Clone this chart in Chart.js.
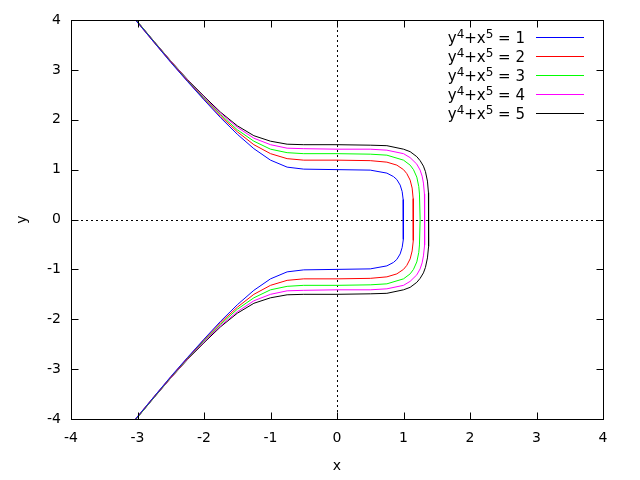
<!DOCTYPE html>
<html>
<head>
<meta charset="utf-8">
<script src="https://cdn.jsdelivr.net/npm/chart.js@4/dist/chart.umd.min.js"></script>
<style>
html,body{margin:0;padding:0;background:#fff;}
#c{display:block;}
</style>
</head>
<body>
<canvas id="c" width="640" height="480"></canvas>
<script>
// ---- data ----
// legend texts; "^" marks a superscript digit (drawn raised, smaller)
const labels = ["y^4+x^5 = 1","y^4+x^5 = 2","y^4+x^5 = 3","y^4+x^5 = 4","y^4+x^5 = 5"];
const colors = ["#0000ff","#ff0000","#00ff00","#ff00ff","#000000"];
const tickValues = [-4,-3,-2,-1,0,1,2,3,4];

const x1 = [-3.03,-2.75,-2.5,-2.25,-2,-1.75,-1.5,-1.25,-1,-0.75,-0.5,0,0.5,0.75,0.85,0.9,0.95,0.98,0.995,1,
            0.995,0.98,0.95,0.9,0.85,0.75,0.5,0,-0.5,-0.75,-1,-1.25,-1.5,-1.75,-2,-2.25,-2.5,-2.75,-3.03];
const y1 = [4,3.55,3.15,2.77,2.4,2.04,1.71,1.42,1.19,1.05,1.01,1,0.99,0.93,0.86,0.8,0.69,0.56,0.4,0,
            -0.4,-0.56,-0.69,-0.8,-0.86,-0.93,-0.99,-1,-1.01,-1.05,-1.19,-1.42,-1.71,-2.04,-2.4,-2.77,-3.15,-3.55,-4];

const x2 = [-3.03,-2.75,-2.5,-2.25,-2,-1.75,-1.5,-1.25,-1,-0.75,-0.5,0,0.5,0.75,0.9,1,1.05,1.1,1.13,1.145,1.15,
            1.145,1.13,1.1,1.05,1,0.9,0.75,0.5,0,-0.5,-0.75,-1,-1.25,-1.5,-1.75,-2,-2.25,-2.5,-2.75,-3.03];
const y2 = [4,3.55,3.16,2.78,2.41,2.07,1.76,1.5,1.32,1.22,1.19,1.19,1.18,1.15,1.09,1,0.92,0.79,0.63,0.42,0,
            -0.42,-0.63,-0.79,-0.92,-1,-1.09,-1.15,-1.18,-1.19,-1.19,-1.22,-1.32,-1.5,-1.76,-2.07,-2.41,-2.78,-3.16,-3.55,-4];

const x3 = [-3.02,-2.75,-2.5,-2.25,-2,-1.75,-1.5,-1.25,-1,-0.75,-0.5,0,0.5,0.75,1,1.1,1.15,1.2,1.23,1.24,1.25,
            1.24,1.23,1.2,1.15,1.1,1,0.75,0.5,0,-0.5,-0.75,-1,-1.25,-1.5,-1.75,-2,-2.25,-2.5,-2.75,-3.02];
const y3 = [4,3.56,3.17,2.79,2.43,2.1,1.8,1.57,1.41,1.34,1.32,1.32,1.31,1.29,1.19,1.09,1,0.85,0.66,0.51,0,
            -0.51,-0.66,-0.85,-1,-1.09,-1.19,-1.29,-1.31,-1.32,-1.32,-1.34,-1.41,-1.57,-1.8,-2.1,-2.43,-2.79,-3.17,-3.56,-4];

const x4 = [-3.02,-2.75,-2.5,-2.25,-2,-1.75,-1.5,-1.25,-1,-0.75,-0.5,0,0.5,0.75,1,1.1,1.2,1.25,1.28,1.3,1.315,1.32,
            1.315,1.3,1.28,1.25,1.2,1.1,1,0.75,0.5,0,-0.5,-0.75,-1,-1.25,-1.5,-1.75,-2,-2.25,-2.5,-2.75,-3.02];
const y4 = [4,3.56,3.18,2.8,2.45,2.13,1.85,1.63,1.5,1.43,1.42,1.41,1.41,1.39,1.32,1.24,1.11,0.99,0.87,0.73,0.51,0,
            -0.51,-0.73,-0.87,-0.99,-1.11,-1.24,-1.32,-1.39,-1.41,-1.41,-1.42,-1.43,-1.5,-1.63,-1.85,-2.13,-2.45,-2.8,-3.18,-3.56,-4];

const x5 = [-3.02,-2.75,-2.5,-2.25,-2,-1.75,-1.5,-1.25,-1,-0.75,-0.5,0,0.5,0.75,1,1.1,1.2,1.25,1.3,1.33,1.36,1.375,1.38,
            1.375,1.36,1.33,1.3,1.25,1.2,1.1,1,0.75,0.5,0,-0.5,-0.75,-1,-1.25,-1.5,-1.75,-2,-2.25,-2.5,-2.75,-3.02];
const y5 = [4,3.57,3.18,2.81,2.47,2.15,1.88,1.68,1.57,1.51,1.5,1.5,1.49,1.48,1.41,1.36,1.26,1.18,1.07,0.96,0.77,0.54,0,
            -0.54,-0.77,-0.96,-1.07,-1.18,-1.26,-1.36,-1.41,-1.48,-1.49,-1.5,-1.5,-1.51,-1.57,-1.68,-1.88,-2.15,-2.47,-2.81,-3.18,-3.57,-4];

const seriesX = [x1,x2,x3,x4,x5];
const seriesY = [y1,y2,y3,y4,y5];

const FONT = "DejaVu Sans";
const FS = 14;
const KEY_FS = 15, SUP_FS = 12;

const datasets = seriesX.map((xs,i)=>({
  label: labels[i].replace(/\^/g,''),
  data: xs.map((x,j)=>({x:x, y:seriesY[i][j]})),
  showLine: true,
  borderColor: colors[i],
  backgroundColor: colors[i],
  borderWidth: 1,
  pointRadius: 0,
  fill: false,
  tension: 0
}));

function parseRich(s){
  const parts = [];
  let buf = '';
  for (let i=0;i<s.length;i++){
    if (s[i]==='^' && i+1<s.length){
      if (buf) { parts.push({t:buf, sup:false}); buf=''; }
      parts.push({t:s[i+1], sup:true}); i++;
    } else buf += s[i];
  }
  if (buf) parts.push({t:buf, sup:false});
  return parts;
}

const framePlugin = {
  id: 'frame',
  beforeDatasetsDraw(chart){
    const {ctx, chartArea:a, scales:{x, y}} = chart;
    ctx.save();
    ctx.strokeStyle = '#000';
    ctx.lineWidth = 1;
    ctx.setLineDash([2,3]);
    const px = Math.round(x.getPixelForValue(0)) + 0.5;
    const py = Math.round(y.getPixelForValue(0)) + 0.5;
    ctx.beginPath();
    ctx.moveTo(px, a.top); ctx.lineTo(px, a.bottom);
    ctx.moveTo(a.left, py); ctx.lineTo(a.right, py);
    ctx.stroke();
    ctx.restore();
  },
  afterDatasetsDraw(chart){
    const {ctx, chartArea:a, scales:{x, y}} = chart;
    ctx.save();
    ctx.strokeStyle = '#000';
    ctx.lineWidth = 1;
    ctx.setLineDash([]);
    const L = Math.round(a.left)+0.5, R = Math.round(a.right)+0.5;
    const T = Math.round(a.top)+0.5, B = Math.round(a.bottom)+0.5;
    ctx.strokeRect(L, T, R-L, B-T);
    const tl = 7;
    ctx.beginPath();
    tickValues.forEach(v=>{
      const px = Math.round(x.getPixelForValue(v))+0.5;
      ctx.moveTo(px, B); ctx.lineTo(px, B-tl);
      ctx.moveTo(px, T); ctx.lineTo(px, T+tl);
      const py = Math.round(y.getPixelForValue(v))+0.5;
      ctx.moveTo(L, py); ctx.lineTo(L+tl, py);
      ctx.moveTo(R, py); ctx.lineTo(R-tl, py);
    });
    ctx.stroke();
    // key
    ctx.fillStyle = '#000';
    ctx.textAlign = 'left';
    ctx.textBaseline = 'alphabetic';
    labels.forEach((t,i)=>{
      const ry = 37.5 + i*19;
      const parts = parseRich(t);
      let w = 0;
      parts.forEach(p=>{
        ctx.font = (p.sup?SUP_FS:KEY_FS) + "px '" + FONT + "'";
        p.w = ctx.measureText(p.t).width; w += p.w;
      });
      let cx = 525 - w;
      const base = ry + 5.5;
      parts.forEach(p=>{
        ctx.font = (p.sup?SUP_FS:KEY_FS) + "px '" + FONT + "'";
        ctx.fillText(p.t, cx, p.sup ? base - 5 : base);
        cx += p.w;
      });
      ctx.strokeStyle = colors[i];
      ctx.beginPath();
      ctx.moveTo(536, ry); ctx.lineTo(584, ry);
      ctx.stroke();
    });
    ctx.restore();
  }
};

new Chart(document.getElementById('c'), {
  type: 'scatter',
  data: { datasets },
  options: {
    responsive: false,
    devicePixelRatio: 1,
    animation: false,
    layout: { padding: { top: 20, right: 37, left: 0, bottom: 0 } },
    plugins: { legend: { display: false }, tooltip: { enabled: false } },
    scales: {
      x: {
        type: 'linear', min: -4, max: 4,
        afterFit(s){ s.height = 61; },
        afterBuildTicks(s){ s.ticks = tickValues.map(v=>({value:v})); },
        grid: { display: false, drawTicks: false },
        border: { display: false },
        ticks: { color: '#000', font: { family: FONT, size: FS }, padding: 11, maxRotation: 0 },
        title: { display: true, text: 'x', color: '#000', font: { family: FONT, size: FS }, padding: { top: 0, bottom: 5 } }
      },
      y: {
        type: 'linear', min: -4, max: 4,
        afterFit(s){ s.width = 71; },
        afterBuildTicks(s){ s.ticks = tickValues.map(v=>({value:v})); },
        grid: { display: false, drawTicks: false },
        border: { display: false },
        ticks: { color: '#000', font: { family: FONT, size: FS }, padding: 10 },
        title: { display: true, text: 'y', color: '#000', font: { family: FONT, size: FS }, padding: { top: 14, bottom: 0 } }
      }
    }
  },
  plugins: [framePlugin]
});
</script>
</body>
</html>
